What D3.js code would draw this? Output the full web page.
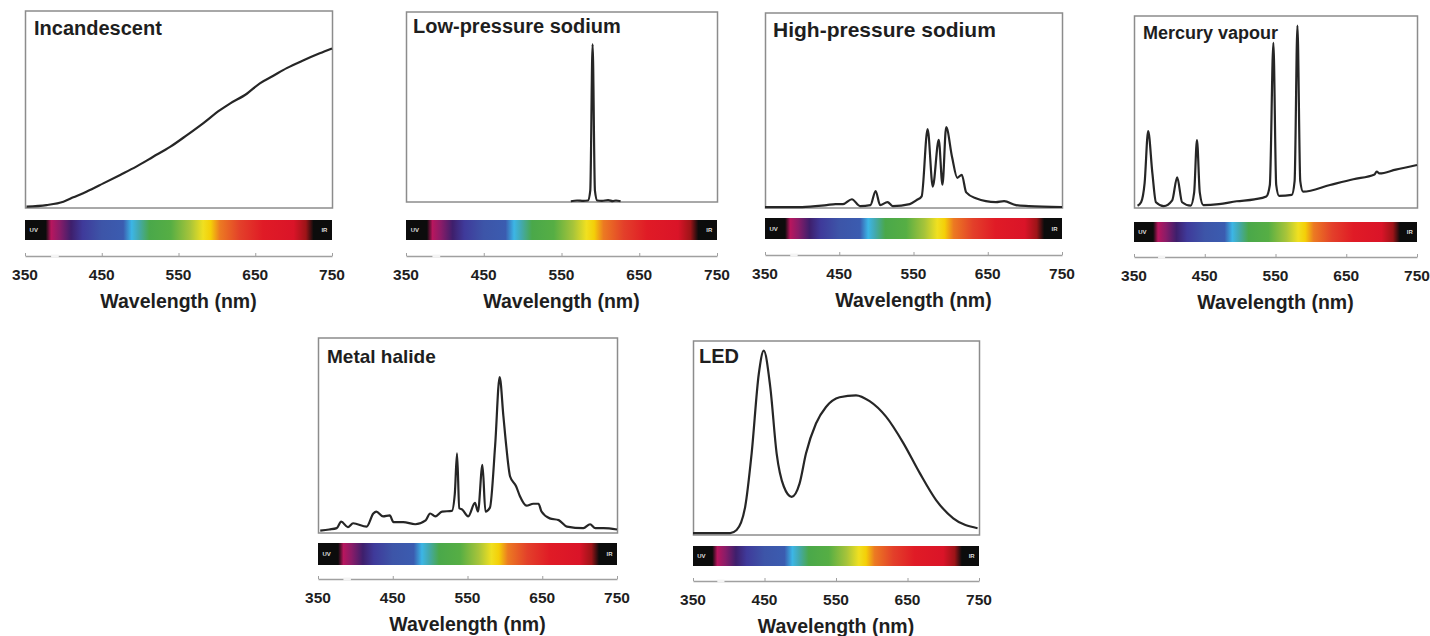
<!DOCTYPE html>
<meta charset="utf-8">
<title>Lamp spectra</title>
<style>
    body { margin: 0; background: #fff; }
    text { font-family: "Liberation Sans", Arial, sans-serif; }
</style>
<script src="https://d3js.org/d3.v7.js"></script>
<body>
<script>
    // wavelength axis shared by every panel
    const tickValues = [350, 450, 550, 650, 750];

    // spectra: wavelength (nm) and relative intensity (0 = box bottom, 1 = box top)
    const incWl  = [352, 378, 400, 413, 430, 452, 474, 495, 517, 539, 561, 582, 604, 617, 639, 656, 673, 691, 713, 734, 750];
    const incVal = [0.007, 0.015, 0.032, 0.054, 0.083, 0.125, 0.168, 0.21, 0.26, 0.31, 0.37, 0.43, 0.497, 0.53, 0.58, 0.633, 0.67, 0.71, 0.75, 0.785, 0.81];

    const lpsWl  = [562, 570, 578, 584, 587, 590, 593, 596, 602, 610, 616, 620, 626];
    const lpsVal = [0.004, 0.008, 0.006, 0.008, 0.06, 0.83, 0.06, 0.008, 0.006, 0.01, 0.005, 0.008, 0.004];

    const hpsWl  = [350, 400, 433, 445, 455, 467, 478, 492, 499, 505, 515, 522, 545, 554, 561, 569, 576, 584, 589, 594, 602, 609, 615, 621, 634, 661, 672, 688, 705, 750];
    const hpsVal = [0.005, 0.005, 0.015, 0.02, 0.02, 0.045, 0.01, 0.015, 0.087, 0.015, 0.03, 0.01, 0.02, 0.04, 0.06, 0.405, 0.11, 0.35, 0.12, 0.415, 0.26, 0.155, 0.17, 0.08, 0.05, 0.03, 0.035, 0.015, 0.01, 0.005];

    const hgWl  = [355, 360, 365, 370, 376, 381, 392, 404, 411, 418, 430, 435, 439, 443, 448, 470, 495, 520, 537, 542, 547, 551, 555, 573, 577, 581, 585, 589, 627, 660, 690, 693, 697, 720, 750];
    const hgVal = [0.012, 0.03, 0.13, 0.40, 0.18, 0.03, 0.01, 0.04, 0.16, 0.03, 0.012, 0.08, 0.354, 0.08, 0.015, 0.02, 0.035, 0.045, 0.06, 0.12, 0.86, 0.12, 0.063, 0.068, 0.14, 0.95, 0.14, 0.085, 0.12, 0.15, 0.175, 0.19, 0.18, 0.2, 0.224];

    const mhWl  = [353, 365, 375, 381, 390, 397, 415, 424, 428, 437, 446, 451, 464, 480, 494, 500, 507, 516, 529, 533, 536, 539, 543, 551, 560, 564, 570, 574, 580, 587, 593, 598, 602, 607, 615, 620, 629, 638, 645, 649, 660, 672, 683, 705, 714, 721, 732, 750];
    const mhVal = [0.012, 0.018, 0.025, 0.058, 0.03, 0.05, 0.033, 0.1, 0.11, 0.085, 0.09, 0.056, 0.056, 0.045, 0.065, 0.1, 0.085, 0.11, 0.113, 0.2, 0.408, 0.127, 0.12, 0.085, 0.154, 0.11, 0.35, 0.11, 0.13, 0.45, 0.80, 0.6, 0.44, 0.29, 0.24, 0.19, 0.14, 0.15, 0.15, 0.11, 0.075, 0.066, 0.033, 0.025, 0.045, 0.025, 0.025, 0.018];

    const ledWl  = [350, 402, 411, 423, 432, 442, 449, 458, 467, 477, 488, 499, 508, 522, 536, 555, 578, 597, 620, 644, 667, 690, 714, 748];
    const ledVal = [0.01, 0.01, 0.026, 0.146, 0.42, 0.83, 0.95, 0.765, 0.42, 0.25, 0.197, 0.265, 0.42, 0.575, 0.66, 0.71, 0.72, 0.69, 0.61, 0.475, 0.32, 0.18, 0.086, 0.035];

    // colour strip under each chart
    const stripWl     = [350, 377, 384, 395, 410, 425, 450, 478, 489, 498, 512, 540, 565, 582, 592, 604, 630, 660, 700, 716, 726, 750];
    const stripColors = ["#0c0c0c", "#0c0c0c", "#b8165e", "#8a1c68", "#3e1f6c", "#3f3a9a", "#3d55a8", "#3b5cb0", "#3cb6e6", "#43a9b0", "#4aa84a", "#56ae44", "#a7c43a", "#f0e020", "#f4cf08", "#ec7a22", "#e3402a", "#e01b26", "#da1428", "#9d1418", "#0c0c0c", "#0c0c0c"];

    // panel placement on the page
    const panels = [
        {name: "Incandescent",        wl: incWl, val: incVal, left: 25,   right: 332, top: 11,  bottom: 208, barTop: 220, barH: 20, axisY: 256, titleX: 34,   titleY: 35,  size: 20},
        {name: "Low-pressure sodium", wl: lpsWl, val: lpsVal, left: 406,  right: 717, top: 12,  bottom: 202, barTop: 220, barH: 20, axisY: 256, titleX: 413,  titleY: 33,  size: 20},
        {name: "High-pressure sodium",wl: hpsWl, val: hpsVal, left: 765,  right: 1062,top: 13,  bottom: 208, barTop: 218, barH: 21, axisY: 255, titleX: 773,  titleY: 37,  size: 21},
        {name: "Mercury vapour",      wl: hgWl,  val: hgVal,  left: 1134, right: 1417,top: 16,  bottom: 208, barTop: 222, barH: 20, axisY: 257, titleX: 1143, titleY: 39,  size: 18},
        {name: "Metal halide",        wl: mhWl,  val: mhVal,  left: 318,  right: 617, top: 338, bottom: 533, barTop: 543, barH: 22, axisY: 579, titleX: 327,  titleY: 363, size: 19},
        {name: "LED",                 wl: ledWl, val: ledVal, left: 693,  right: 979, top: 341, bottom: 535, barTop: 546, barH: 20, axisY: 581, titleX: 699,  titleY: 363, size: 20}
    ];

    const svg = d3.select("body").append("svg")
        .attr("width", 1430)
        .attr("height", 636);

    const grad = svg.append("defs").append("linearGradient")
        .attr("id", "spectrum")
        .attr("x1", "0%").attr("x2", "100%").attr("y1", "0%").attr("y2", "0%");
    grad.selectAll("stop")
        .data(stripWl)
        .join("stop")
        .attr("offset", d => ((d - 350) / 400 * 100) + "%")
        .attr("stop-color", (d, i) => stripColors[i]);

    panels.forEach(p => {
        const x = d3.scaleLinear().domain([350, 750]).range([p.left, p.right]);
        const y = d3.scaleLinear().domain([0, 1]).range([p.bottom, p.top]);
        const g = svg.append("g");

        // frame
        g.append("rect")
            .attr("x", p.left + 0.5)
            .attr("y", p.top)
            .attr("width", p.right - p.left)
            .attr("height", p.bottom - p.top)
            .attr("fill", "none")
            .attr("stroke", "#8c8c8c")
            .attr("stroke-width", 1.5);

        // spectrum line
        const line = d3.line()
            .x(d => x(d[0]))
            .y(d => y(d[1]))
            .curve(d3.curveMonotoneX);
        g.append("path")
            .datum(p.wl.map((w, i) => [w, p.val[i]]))
            .attr("d", line)
            .attr("fill", "none")
            .attr("stroke", "#262626")
            .attr("stroke-width", 2.2)
            .attr("stroke-linejoin", "round");

        // title
        g.append("text")
            .attr("x", p.titleX)
            .attr("y", p.titleY)
            .style("font-size", p.size + "px")
            .style("font-weight", "bold")
            .attr("fill", "#1e1e1e")
            .text(p.name);

        // colour strip
        g.append("rect")
            .attr("x", x(350))
            .attr("y", p.barTop)
            .attr("width", x(750) - x(350))
            .attr("height", p.barH)
            .attr("fill", "url(#spectrum)");
        g.append("text")
            .attr("x", x(356))
            .attr("y", p.barTop + p.barH / 2 + 2)
            .style("font-size", "6px")
            .style("font-weight", "bold")
            .attr("fill", "#ddd")
            .text("UV");
        g.append("text")
            .attr("x", x(744))
            .attr("y", p.barTop + p.barH / 2 + 2)
            .attr("text-anchor", "end")
            .style("font-size", "6px")
            .style("font-weight", "bold")
            .attr("fill", "#ddd")
            .text("IR");

        // x axis
        const ax = g.append("g")
            .attr("transform", `translate(0,${p.axisY})`)
            .call(d3.axisTop(x).tickValues(tickValues).tickSize(3).tickSizeOuter(0).tickFormat(""));
        ax.select(".domain").attr("stroke", "#a0a0a0").attr("stroke-width", 1.5);
        ax.selectAll(".tick line").attr("stroke", "#a0a0a0");
        // small break in the axis line
        ax.append("line")
            .attr("x1", x(384)).attr("x2", x(394))
            .attr("stroke", "#f4f4f4").attr("stroke-width", 3);

        g.selectAll(".tl")
            .data(tickValues)
            .join("text")
            .attr("x", d => x(d))
            .attr("y", p.axisY + 24)
            .attr("text-anchor", "middle")
            .style("font-size", "15.5px")
            .style("font-weight", "bold")
            .attr("fill", "#1e1e1e")
            .text(d => d);

        g.append("text")
            .attr("x", (x(350) + x(750)) / 2)
            .attr("y", p.axisY + 52)
            .attr("text-anchor", "middle")
            .style("font-size", "19.5px")
            .style("font-weight", "bold")
            .attr("fill", "#1e1e1e")
            .text("Wavelength (nm)");
    });
</script>
</body>
